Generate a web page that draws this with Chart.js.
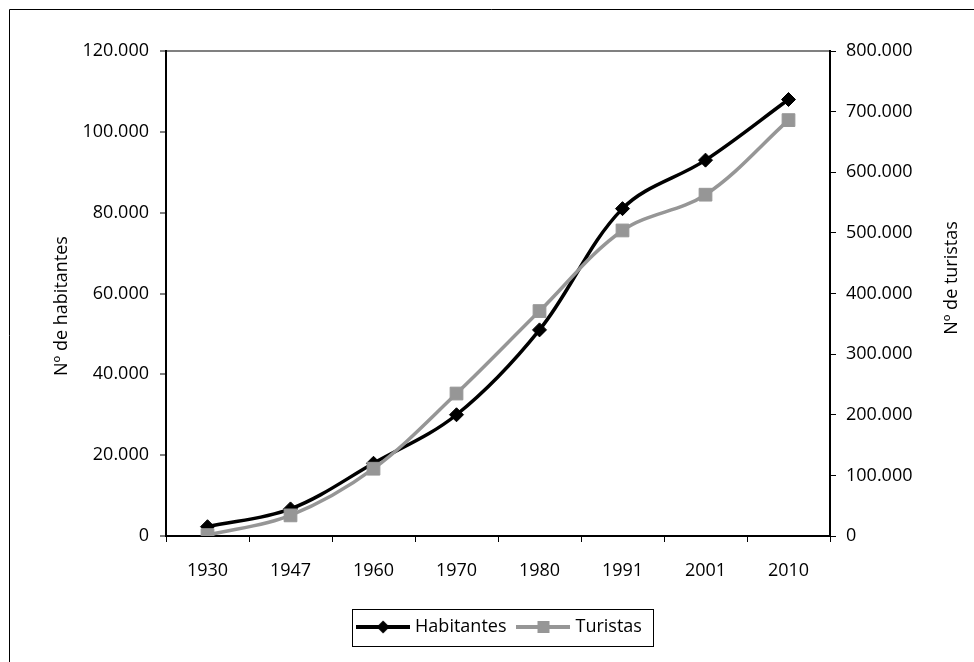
<!DOCTYPE html>
<html>
<head>
<meta charset="utf-8">
<script src="https://cdn.jsdelivr.net/npm/chart.js@4/dist/chart.umd.min.js"></script>
<style>
html,body{margin:0;padding:0;background:#fff;}
#c{display:block;}
</style>
</head>
<body>
<canvas id="c" width="974" height="662" style="width:974px;height:662px"></canvas>
<script>
const years = ['1930','1947','1960','1970','1980','1991','2001','2010'];
const habitantes = [2300, 6700, 18000, 30000, 51000, 81000, 93000, 108000];
const turistas = [1500, 34000, 111000, 235000, 371000, 504000, 563000, 686000];
const leftTitle = 'Nº de habitantes';
const rightTitle = 'Nº de turistas';
const seriesNames = ['Habitantes', 'Turistas'];

const FONT = '"Open Sans", sans-serif';
const BLACK = '#000000';
const GRAY = '#969696';

function fmt(v){ return String(Math.round(v)).replace(/\B(?=(\d{3})+(?!\d))/g, '.'); }

function legendIcon(color, shape){
  const c = document.createElement('canvas');
  c.width = 54; c.height = 18;
  const g = c.getContext('2d');
  g.strokeStyle = color; g.lineWidth = 4;
  g.beginPath(); g.moveTo(0, 9); g.lineTo(54, 9); g.stroke();
  g.fillStyle = color;
  g.beginPath();
  if (shape === 'diamond') {
    g.moveTo(27, 2.5); g.lineTo(33.5, 9); g.lineTo(27, 15.5); g.lineTo(20.5, 9); g.closePath();
  } else {
    g.rect(21, 3, 12, 12);
  }
  g.fill();
  return c;
}
const icons = [legendIcon(BLACK, 'diamond'), legendIcon(GRAY, 'square')];

const decor = {
  id: 'decor',
  beforeDraw(chart){
    const ctx = chart.ctx;
    ctx.save();
    ctx.fillStyle = '#fff';
    ctx.fillRect(0, 0, chart.width, chart.height);
    ctx.strokeStyle = '#000';
    ctx.lineWidth = 1;
    ctx.beginPath();
    ctx.moveTo(9.5, chart.height); ctx.lineTo(9.5, 9.5); ctx.lineTo(chart.width, 9.5);
    ctx.stroke();
    ctx.restore();
  },
  afterDraw(chart){
    const ctx = chart.ctx;
    ctx.save();
    ctx.fillStyle = '#000';
    ctx.font = '18px ' + FONT;
    ctx.textAlign = 'center';
    ctx.textBaseline = 'middle';
    ctx.translate(62, 306); ctx.rotate(-Math.PI/2);
    ctx.fillText(leftTitle, 0, 0);
    ctx.restore();
    ctx.save();
    ctx.fillStyle = '#000';
    ctx.font = '18px ' + FONT;
    ctx.textAlign = 'center';
    ctx.textBaseline = 'middle';
    ctx.translate(952, 278); ctx.rotate(-Math.PI/2);
    ctx.fillText(rightTitle, 0, 0);
    ctx.restore();
    // legend frame
    const lg = chart.legend;
    if (lg && lg.legendHitBoxes && lg.legendHitBoxes.length) {
      const hb = lg.legendHitBoxes;
      const first = hb[0], last = hb[hb.length-1];
      const cy = first.top + first.height/2;
      const x0 = first.left - 8.5, x1 = last.left + last.width + 10.5;
      ctx.save();
      ctx.strokeStyle = '#000';
      ctx.lineWidth = 1;
      ctx.strokeRect(Math.round(x0)+0.5, Math.round(cy-18.5)+0.5, Math.round(x1-x0), 37);
      ctx.restore();
    }
  }
};

new Chart(document.getElementById('c'), {
  type: 'line',
  data: {
    labels: years,
    datasets: [
      {
        label: seriesNames[0], data: habitantes, yAxisID: 'y',
        borderColor: BLACK, backgroundColor: BLACK, borderWidth: 3.5,
        pointStyle: 'rectRot', pointRadius: 7, pointBorderWidth: 1,
        pointBackgroundColor: BLACK, pointBorderColor: BLACK,
        tension: 0.35, order: 1
      },
      {
        label: seriesNames[1], data: turistas, yAxisID: 'y1',
        borderColor: GRAY, backgroundColor: GRAY, borderWidth: 3.5,
        pointStyle: 'rect', pointRadius: 9, pointBorderWidth: 1,
        pointBackgroundColor: GRAY, pointBorderColor: GRAY,
        tension: 0.35, order: 0
      }
    ]
  },
  options: {
    responsive: false,
    devicePixelRatio: 1,
    animation: false,
    layout: { padding: { left: 28, right: 0, top: 51, bottom: 16 } },
    plugins: {
      tooltip: { enabled: false },
      legend: {
        position: 'bottom',
        labels: {
          usePointStyle: true,
          pointStyleWidth: 46,
          padding: 14,
          color: '#000',
          font: { family: FONT, size: 18 },
          generateLabels: (chart) => seriesNames.map((n, i) => ({
            text: n, pointStyle: icons[i], datasetIndex: i, hidden: false,
            lineWidth: 0, strokeStyle: 'rgba(0,0,0,0)', fillStyle: 'rgba(0,0,0,0)', fontColor: '#000'
          }))
        }
      }
    },
    scales: {
      x: {
        type: 'category',
        offset: true,
        grid: { offset: true, drawOnChartArea: false, tickLength: 6, tickColor: '#000', tickWidth: 1 },
        border: { color: '#000', width: 2 },
        ticks: { color: '#000', font: { family: FONT, size: 18 }, padding: 18, maxRotation: 0, autoSkip: false },
        afterFit: (s) => { s.height = 68; }
      },
      y: {
        position: 'left',
        min: 0, max: 120000,
        ticks: { stepSize: 20000, color: '#000', font: { family: FONT, size: 18 }, padding: 11, callback: (v) => fmt(v) },
        grid: {
          color: (c) => (c.tick && c.tick.value === 120000) ? '#808080' : 'rgba(0,0,0,0)',
          lineWidth: 2,
          tickLength: 6, tickColor: '#000', tickWidth: 1
        },
        border: { color: '#000', width: 2 },
        afterFit: (s) => { s.width = 138; }
      },
      y1: {
        position: 'right',
        min: 0, max: 800000,
        ticks: { stepSize: 100000, color: '#000', font: { family: FONT, size: 18 }, padding: 10, callback: (v) => fmt(v) },
        grid: { drawOnChartArea: false, tickLength: 6, tickColor: '#000', tickWidth: 1 },
        border: { color: '#000', width: 2 },
        afterFit: (s) => { s.width = 144; }
      }
    }
  },
  plugins: [decor]
});
</script>
</body>
</html>
